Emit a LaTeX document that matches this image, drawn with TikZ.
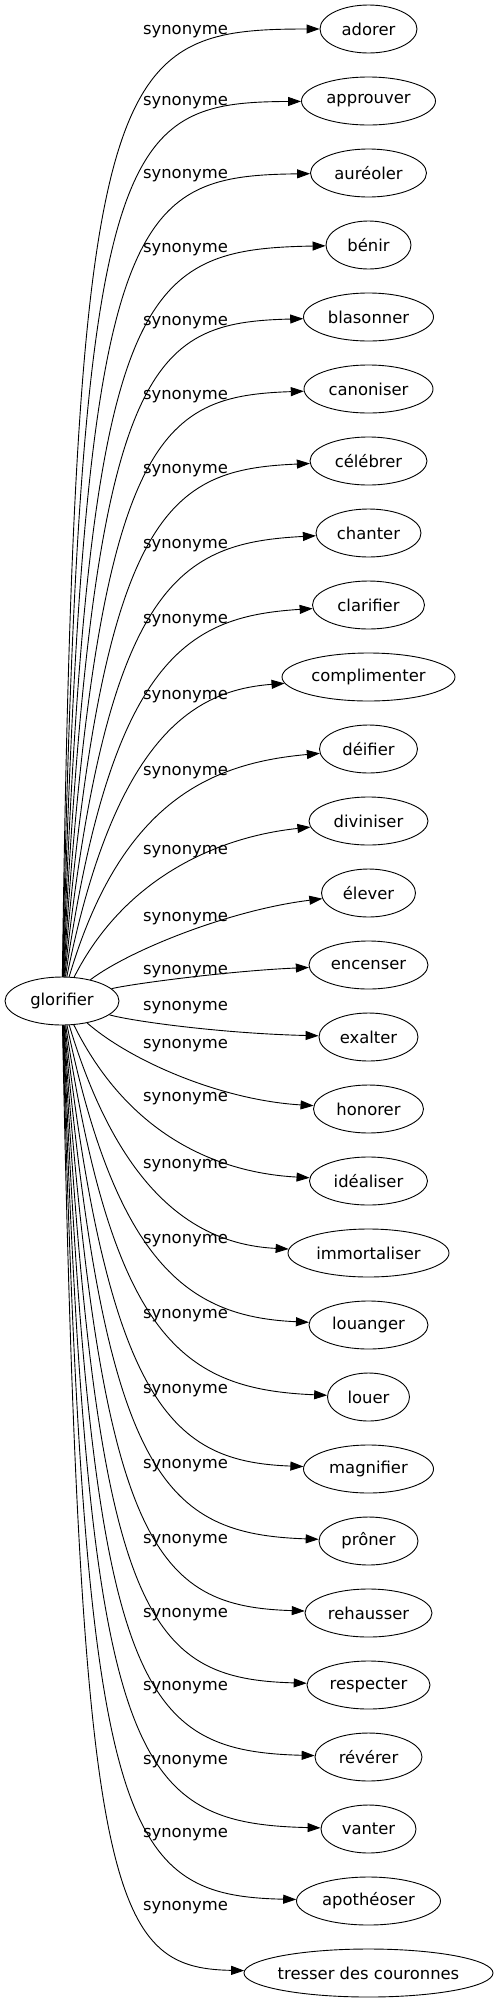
\documentclass[tikz,border=0pt]{standalone}
\usepackage{fontspec}
\setmainfont{DejaVu Sans}
\usetikzlibrary{arrows.meta,shapes.geometric}
\begin{document}
\begin{tikzpicture}[>={Triangle[length=13pt,width=9pt]},x=1pt,y=-1pt,line width=0.9pt,
	mot/.style={draw,ellipse,inner xsep=-3pt,inner ysep=0pt,minimum height=48pt,font=\fontsize{16.4}{19}\selectfont},
	lien/.style={inner sep=0pt,font=\fontsize{16.4}{19}\selectfont}]
	\useasboundingbox (0,0) rectangle (499,2003);
	\node[mot,minimum width=114pt] (glorifier) at (62,1001) {glorifier};
	% i / mot / largeur / y de l'etiquette
	\foreach \i/\txt/\w/\ly in {1/adorer/97/32,2/approuver/134/103,3/auréoler/116/176,4/bénir/85/250,
		5/blasonner/130/323,6/canoniser/129/397,7/célébrer/117/471,8/chanter/105/546,
		9/clarifier/112/621,10/complimenter/173/697,11/déifier/98/773,12/diviniser/119/852,
		13/élever/94/919,14/encenser/119/972,15/exalter/99/1008,16/honorer/110/1046,
		17/idéaliser/118/1099,18/immortaliser/161/1166,19/louanger/119/1241,20/louer/82/1316,
		21/magnifier/130/1391,22/prôner/99/1466,23/rehausser/127/1541,24/respecter/123/1615,
		25/révérer/107/1688,26/vanter/95/1762,27/apothéoser/144/1835,28/tresser des couronnes/249/1908}{
		\pgfmathsetmacro\ny{29+72*(\i-1)}
		\node[mot,minimum width=\w pt] (n\i) at (368.5,\ny) {\txt};
		\node[lien] (l\i) at (185.5,\ly) {synonyme};
		% points de controle
		\pgfmathsetmacro\dd{1001-\ny}
		\pgfmathsetmacro\up{ifthenelse(\dd>0,1,0)}
		\pgfmathsetmacro\Dv{abs(\dd)}
		\pgfmathsetmacro\sv{min(max((\Dv-108)/864,0),1)}
		\pgfmathsetmacro\Av{ifthenelse(\up>0,min(57-24*\sv,0.53*\Dv),min(49+24*\sv,0.45*\Dv))}
		\pgfmathsetmacro\Bv{ifthenelse(\up>0,min(17*(1-\sv),0.16*\Dv),min(9-4*\sv,0.1*\Dv))}
		\pgfmathsetmacro\Xa{ifthenelse(\up>0,130-55*\sv,130-50*\sv)}
		\pgfmathsetmacro\Xb{ifthenelse(\up>0,230-120*\sv,220-110*\sv)}
		\pgfmathsetmacro\Ya{\ny+(2*\up-1)*\Av}
		\pgfmathsetmacro\Yb{\ny+(2*\up-1)*\Bv}
		\draw[->] (glorifier) .. controls (\Xa,\Ya) and (\Xb,\Yb) .. (n\i);
	}
\end{tikzpicture}
\end{document}
